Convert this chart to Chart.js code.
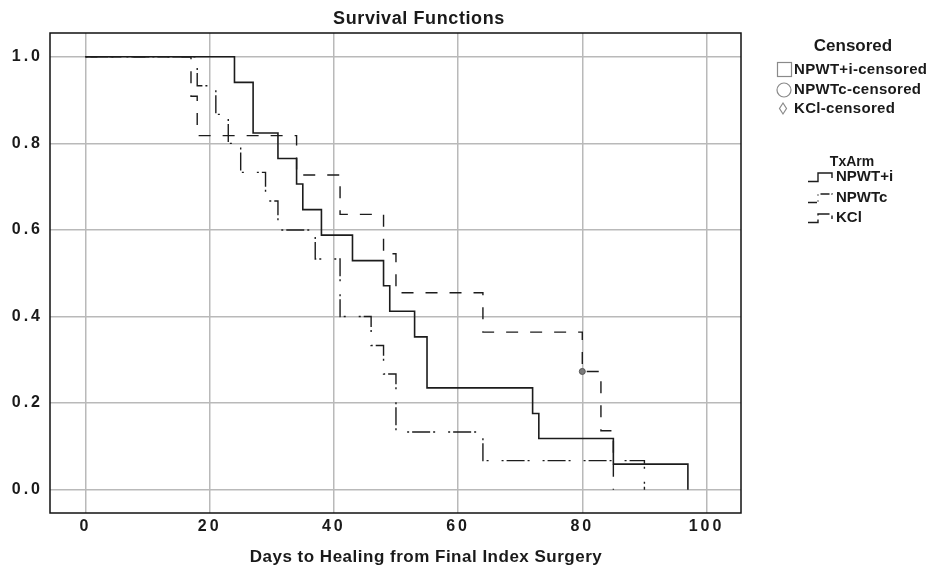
<!DOCTYPE html>
<html>
<head>
<meta charset="utf-8">
<script src="https://cdn.jsdelivr.net/npm/chart.js@4.4.1/dist/chart.umd.min.js"></script>
<style>
  html, body { margin: 0; padding: 0; background: #fff; }
  #wrap { position: relative; width: 931px; height: 572px; }
</style>
</head>
<body>
<div id="wrap"><canvas id="km" width="931" height="572"></canvas></div>
<script>
// Kaplan-Meier step points (time, survival after the step)
const npwtiTimes = [0, 24, 27, 31, 34, 35, 38, 43, 48, 49, 53, 55, 72, 73, 85, 97];
const npwtiSurv = [1, 0.941, 0.824, 0.765, 0.706, 0.647, 0.588, 0.529, 0.471, 0.412, 0.353, 0.235, 0.176, 0.118, 0.059, 0];

const npwtcTimes = [0, 18, 21, 23, 25, 29, 31, 37, 41, 46, 48, 50, 64, 90];
const npwtcSurv = [1, 0.933, 0.867, 0.8, 0.733, 0.667, 0.6, 0.533, 0.4, 0.333, 0.267, 0.133, 0.067, 0];

const kciTimes = [0, 17, 18, 34, 41, 48, 50, 64, 80, 83, 85];
const kciSurv = [1, 0.909, 0.818, 0.727, 0.636, 0.545, 0.455, 0.364, 0.273, 0.136, 0];

const censorTimes = [80];
const censorSurv = [0.273];

const xTicks = [0, 20, 40, 60, 80, 100];
const yTicks = [0, 0.2, 0.4, 0.6, 0.8, 1.0];

const censorLabels = ["NPWT+i-censored", "NPWTc-censored", "KCl-censored"];
const armLabels = ["NPWT+i", "NPWTc", "KCl"];

const LINE = "#1c1c1c";
const GRID = "#b9b9b9";
const FONT = "'Liberation Sans', Arial, sans-serif";
const DASH_NPWTC = [2, 3, 18, 3, 2, 13];
const DASH_KCI = [12, 12];

const toPoints = (xs, ys) => xs.map((x, i) => ({ x: x, y: ys[i] }));

const stepSet = (label, xs, ys, dash, width) => ({
  label: label,
  data: toPoints(xs, ys),
  stepped: "before",
  borderColor: LINE,
  borderWidth: width,
  borderDash: dash,
  pointRadius: 0,
  fill: false,
});

const drawText = (ctx, str, x, y, font, align, spacing) => {
  ctx.font = font;
  ctx.letterSpacing = spacing;
  ctx.textAlign = align;
  ctx.textBaseline = "middle";
  ctx.fillStyle = "#1a1a1a";
  ctx.fillText(str, x, y);
};

const decor = {
  id: "decor",
  beforeUpdate(chart) {
    chart.ctx.letterSpacing = "3px";
  },
  beforeDraw(chart) {
    chart.ctx.letterSpacing = "3px";
  },
  afterDraw(chart) {
    const { ctx, chartArea: a } = chart;
    ctx.save();
    ctx.setLineDash([]);
    ctx.strokeStyle = "#111";
    ctx.lineWidth = 1.5;
    ctx.strokeRect(a.left, a.top, a.right - a.left, a.bottom - a.top);

    drawText(ctx, "Survival Functions", 419, 19, "bold 18px " + FONT, "center", "0.6px");
    drawText(ctx, "Days to Healing from Final Index Surgery", 426, 557, "bold 17px " + FONT, "center", "0.5px");

    // censored legend
    drawText(ctx, "Censored", 853, 46, "bold 17px " + FONT, "center", "0px");
    ctx.strokeStyle = "#8a8a8a";
    ctx.lineWidth = 1.2;
    ctx.strokeRect(777.5, 62.5, 14, 14);
    ctx.beginPath();
    ctx.arc(784, 90, 7, 0, Math.PI * 2);
    ctx.stroke();
    ctx.beginPath();
    ctx.moveTo(783, 103);
    ctx.lineTo(786.5, 108.5);
    ctx.lineTo(783, 114);
    ctx.lineTo(779.5, 108.5);
    ctx.closePath();
    ctx.stroke();
    const cy = [70, 90, 108.5];
    censorLabels.forEach((t, i) => {
      drawText(ctx, t, 794, cy[i], "bold 15px " + FONT, "left", "0.3px");
    });

    // arm legend
    drawText(ctx, "TxArm", 852, 162, "bold 14px " + FONT, "center", "0px");
    const ay = [177, 198, 218];
    const dashes = [[], [9, 2, 1, 5, 1, 3], [13, 4]];
    ctx.strokeStyle = LINE;
    ctx.lineWidth = 1.4;
    ay.forEach((y, i) => {
      ctx.setLineDash(dashes[i]);
      ctx.beginPath();
      ctx.moveTo(808, y + 4.5);
      ctx.lineTo(818, y + 4.5);
      ctx.lineTo(818, y - 4);
      ctx.lineTo(832, y - 4);
      ctx.lineTo(832, y + 1);
      ctx.stroke();
      drawText(ctx, armLabels[i], 836, y, "bold 15px " + FONT, "left", "0px");
    });
    ctx.restore();
  },
};

const tickFont = { family: FONT, size: 16, weight: "bold" };

new Chart(document.getElementById("km"), {
  type: "line",
  data: {
    datasets: [
      stepSet("NPWT+i", npwtiTimes, npwtiSurv, [], 1.6),
      stepSet("NPWTc", npwtcTimes, npwtcSurv, DASH_NPWTC, 1.4),
      stepSet("KCl", kciTimes, kciSurv, DASH_KCI, 1.4),
      {
        type: "scatter",
        label: "KCl-censored",
        data: toPoints(censorTimes, censorSurv),
        pointRadius: 3,
        pointBackgroundColor: "#7a7a7a",
        pointBorderColor: "#555",
        pointBorderWidth: 1,
        showLine: false,
      },
    ],
  },
  options: {
    responsive: false,
    animation: false,
    devicePixelRatio: 1,
    layout: { padding: { top: 33, right: 190, left: 0, bottom: 0 } },
    plugins: {
      legend: { display: false },
      tooltip: { enabled: false },
      title: { display: false },
    },
    scales: {
      x: {
        type: "linear",
        min: -5.7,
        max: 105.55,
        afterFit: (s) => { s.height = 59; },
        afterBuildTicks: (s) => { s.ticks = xTicks.map((v) => ({ value: v })); },
        grid: { color: GRID, lineWidth: 1.5, drawTicks: false },
        border: { display: false },
        ticks: { color: "#1a1a1a", font: tickFont, padding: 4, maxRotation: 0 },
      },
      y: {
        type: "linear",
        min: -0.054,
        max: 1.055,
        afterFit: (s) => { s.width = 50; },
        afterBuildTicks: (s) => { s.ticks = yTicks.map((v) => ({ value: v })); },
        grid: { color: GRID, lineWidth: 1.5, drawTicks: false },
        border: { display: false },
        ticks: {
          color: "#1a1a1a",
          font: tickFont,
          padding: 7,
          callback: (v) => v.toFixed(1),
        },
      },
    },
  },
  plugins: [decor],
});
</script>
</body>
</html>
